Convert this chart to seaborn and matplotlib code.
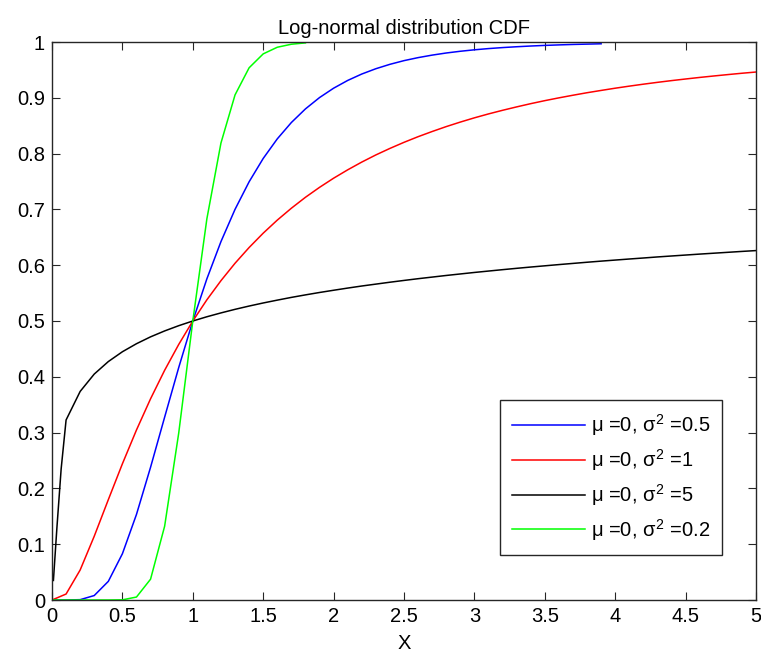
import matplotlib
matplotlib.use("Agg")
import matplotlib.pyplot as plt
import seaborn as sns
import numpy as np
import pandas as pd

# x grid used by the curves (step 0.1)
x_grid = [round(0.1 * i, 1) for i in range(51)]

# values
cdf_s05 = [0.0, 0.0, 0.0006, 0.008, 0.0334, 0.0829, 0.1534, 0.2379, 0.3277, 0.4166,
           0.5, 0.5756, 0.6423, 0.7001, 0.7495, 0.7913, 0.8264, 0.8557, 0.8801, 0.9004,
           0.9172, 0.9311, 0.9426, 0.9521, 0.96, 0.9666, 0.972, 0.9765, 0.9803, 0.9834,
           0.986, 0.9882, 0.99, 0.9915, 0.9928, 0.9939, 0.9948, 0.9956, 0.9962, 0.9968]
cdf_s1 = [0.0, 0.0107, 0.0538, 0.1143, 0.1798, 0.2441, 0.3047, 0.3606, 0.4117, 0.458,
          0.5, 0.538, 0.5723, 0.6035, 0.6317, 0.6574, 0.6808, 0.7021, 0.7217, 0.7395,
          0.7559, 0.7709, 0.7848, 0.7976, 0.8093, 0.8202, 0.8303, 0.8396, 0.8484, 0.8565,
          0.8641, 0.8711, 0.8776, 0.8837, 0.8895, 0.8949, 0.8999, 0.9046, 0.9091, 0.9132,
          0.9172, 0.9209, 0.9244, 0.9277, 0.9308, 0.9337, 0.9365, 0.9391, 0.9416, 0.944,
          0.9462]
cdf_s5_x = [0.01, 0.035, 0.065] + x_grid[1:]
cdf_s5 = [0.035, 0.13, 0.235, 0.3226, 0.3738, 0.4049, 0.4273, 0.4449, 0.4593, 0.4716,
          0.4822, 0.4916, 0.5, 0.5076, 0.5145, 0.5209, 0.5268, 0.5323, 0.5374, 0.5423,
          0.5468, 0.5511, 0.5551, 0.559, 0.5627, 0.5661, 0.5695, 0.5727, 0.5758, 0.5787,
          0.5816, 0.5843, 0.587, 0.5895, 0.592, 0.5944, 0.5967, 0.5989, 0.6011, 0.6032,
          0.6053, 0.6073, 0.6092, 0.6111, 0.6129, 0.6148, 0.6165, 0.6182, 0.6199, 0.6215,
          0.6231, 0.6247, 0.6262]
cdf_s02 = [0.0, 0.0, 0.0, 0.0, 0.0, 0.0003, 0.0053, 0.0373, 0.1323, 0.2992,
           0.5, 0.6832, 0.819, 0.9052, 0.9538, 0.9787, 0.9906, 0.996, 0.9984]

labels = [r"$\mu$ =0, $\sigma^2$ =0.5", r"$\mu$ =0, $\sigma^2$ =1",
          r"$\mu$ =0, $\sigma^2$ =5", r"$\mu$ =0, $\sigma^2$ =0.2"]
colors = ["#0000ff", "#ff0000", "#000000", "#00ff00"]

series = [(x_grid[:len(cdf_s05)], cdf_s05),
          (x_grid[:len(cdf_s1)], cdf_s1),
          (cdf_s5_x, cdf_s5),
          (x_grid[:len(cdf_s02)], cdf_s02)]

frames = []
for lab, (xs, ys) in zip(labels, series):
    frames.append(pd.DataFrame({"x": xs, "p": ys, "label": lab}))
df = pd.concat(frames, ignore_index=True)

plt.rcParams["font.family"] = ["Liberation Sans", "DejaVu Sans"]
plt.rcParams["mathtext.fontset"] = "custom"
plt.rcParams["mathtext.rm"] = "Liberation Sans"
plt.rcParams["mathtext.it"] = "Liberation Sans"
fs = 14.5
plt.rcParams["font.size"] = fs

fig = plt.figure(figsize=(7.61, 6.55), dpi=100)
ax = fig.add_axes([52 / 761, 55 / 655, 704 / 761, 558 / 655])

sns.lineplot(data=df, x="x", y="p", hue="label", hue_order=labels,
             palette=dict(zip(labels, colors)), sort=False, estimator=None,
             linewidth=1.1, ax=ax)

ax.set_xlim(0, 5)
ax.set_ylim(0, 1)
ax.set_xticks(np.arange(0, 5.01, 0.5))
ax.set_xticklabels(["0", "0.5", "1", "1.5", "2", "2.5", "3", "3.5", "4", "4.5", "5"])
ax.set_yticks(np.arange(0, 1.01, 0.1))
ax.set_yticklabels(["0", "0.1", "0.2", "0.3", "0.4", "0.5", "0.6", "0.7", "0.8", "0.9", "1"])
ax.tick_params(direction="in", length=6, top=True, right=True, labelsize=fs, pad=5,
               color="#262626")
for sp in ax.spines.values():
    sp.set_linewidth(1.0)
    sp.set_color("#262626")

ax.set_xlabel("X", fontsize=fs, labelpad=6)
ax.set_ylabel("")
ax.set_title("Log-normal distribution CDF", fontsize=fs, pad=6)

leg = ax.legend(loc="lower right", bbox_to_anchor=(0.952, 0.081), borderaxespad=0,
                fancybox=False, edgecolor="#262626", framealpha=1, fontsize=fs,
                handlelength=3.6, handletextpad=0.3, labelspacing=0.45,
                borderpad=0.6, title=None)
leg.get_frame().set_linewidth(1.0)

fig.savefig("out.png", dpi=100)
